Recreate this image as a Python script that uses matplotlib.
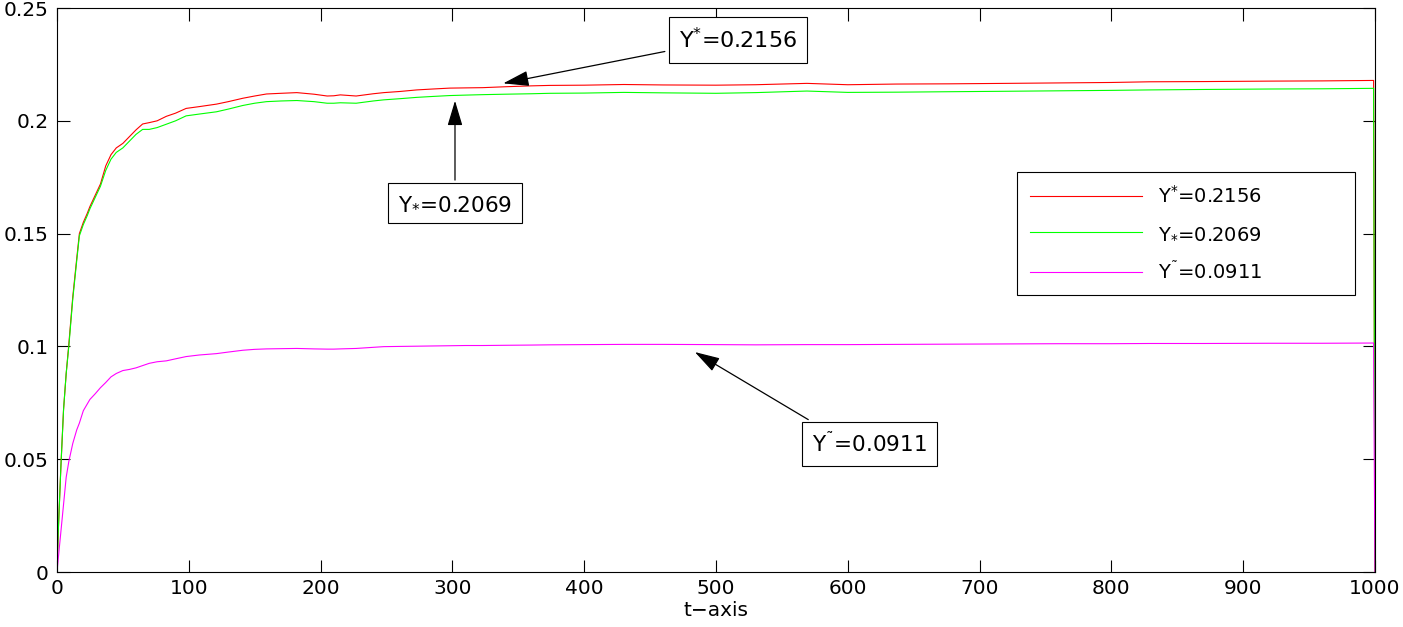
import matplotlib
matplotlib.use('Agg')
import matplotlib.pyplot as plt

# time points
t = [0, 1, 3, 5, 7, 9, 12, 15, 17, 20, 23, 25, 29, 33, 37, 41, 45, 50, 55, 60,
     65, 70, 76, 83, 90, 98, 108, 121, 130, 141, 150, 159, 170, 182, 195, 205,
     210, 215, 227, 240, 248, 260, 273, 285, 298, 310, 323, 340, 360, 374, 400,
     430, 460, 500, 530, 569, 600, 637, 677, 720, 760, 800, 829, 870, 920, 960,
     999, 1000]

y_upper = [0, 0.018, 0.047, 0.072, 0.088, 0.101, 0.122, 0.139, 0.150, 0.155,
           0.159, 0.162, 0.167, 0.172, 0.180, 0.185, 0.188, 0.190, 0.193, 0.196,
           0.1986, 0.1992, 0.200, 0.202, 0.2034, 0.2055, 0.2063, 0.2074, 0.2085,
           0.2100, 0.2110, 0.2119, 0.2122, 0.2125, 0.2118, 0.2110, 0.2111, 0.2115,
           0.2110, 0.2120, 0.2125, 0.2130, 0.2137, 0.2141, 0.2145, 0.2146, 0.2147,
           0.2151, 0.2155, 0.2157, 0.2158, 0.2161, 0.2159, 0.2158, 0.2160, 0.2166,
           0.2160, 0.2163, 0.2164, 0.2166, 0.2168, 0.2170, 0.2173, 0.2174, 0.2176,
           0.2177, 0.2179, 0]

y_lower = [0, 0.018, 0.047, 0.072, 0.088, 0.100, 0.121, 0.138, 0.149, 0.154,
           0.158, 0.161, 0.166, 0.171, 0.178, 0.183, 0.186, 0.188, 0.191, 0.194,
           0.1962, 0.1962, 0.197, 0.1985, 0.200, 0.2022, 0.2030, 0.2040, 0.2052,
           0.2068, 0.2078, 0.2085, 0.2088, 0.2090, 0.2085, 0.2078, 0.2078, 0.2080,
           0.2078, 0.2088, 0.2093, 0.2098, 0.2104, 0.2108, 0.2112, 0.2114, 0.2116,
           0.2118, 0.2120, 0.2122, 0.2123, 0.2126, 0.2124, 0.2122, 0.2125, 0.2132,
           0.2126, 0.2127, 0.2129, 0.2131, 0.2133, 0.2135, 0.2137, 0.2139, 0.2141,
           0.2142, 0.2144, 0]

y_tilde = [0, 0.006, 0.018, 0.030, 0.042, 0.049, 0.057, 0.063, 0.066, 0.0715,
           0.0745, 0.0765, 0.079, 0.0817, 0.084, 0.0865, 0.0880, 0.0893, 0.0898,
           0.0905, 0.0915, 0.0925, 0.0932, 0.0936, 0.0945, 0.0955, 0.0962, 0.0968,
           0.0975, 0.0983, 0.0987, 0.0989, 0.0990, 0.0991, 0.0989, 0.0988, 0.0988,
           0.0989, 0.0991, 0.0996, 0.0999, 0.1000, 0.1001, 0.1002, 0.1003, 0.1004,
           0.1004, 0.1005, 0.1006, 0.1007, 0.1008, 0.1009, 0.1009, 0.1008, 0.1007,
           0.1008, 0.1008, 0.1009, 0.1010, 0.1011, 0.1012, 0.1012, 0.1013, 0.1013,
           0.1014, 0.1014, 0.1015, 0]

labels = [r'Y$^{*}$=0.2156', r'Y$_{*}$=0.2069', r'Y$^{\mathrm{˜}}$=0.0911']
xticks = [0, 100, 200, 300, 400, 500, 600, 700, 800, 900, 1000]
yticks = [0, 0.05, 0.1, 0.15, 0.2, 0.25]
ytick_labels = ['0', '0.05', '0.1', '0.15', '0.2', '0.25']

plt.rcParams['font.family'] = ['DejaVu Sans']
plt.rcParams['mathtext.fontset'] = 'dejavusans'

fig = plt.figure(figsize=(14.03, 6.27), dpi=100)
ax = fig.add_axes([0.0406, 0.0877, 0.9394, 0.8995])

ax.plot(t, y_upper, color='#ff0000', lw=0.8, label=labels[0])
ax.plot(t, y_lower, color='#00ff00', lw=0.8, label=labels[1])
ax.plot(t, y_tilde, color='#ff00ff', lw=0.8, label=labels[2])

ax.set_xlim(0, 1000)
ax.set_ylim(0, 0.25)
ax.set_xticks(xticks)
ax.set_yticks(yticks)
ax.set_yticklabels(ytick_labels)
ax.tick_params(direction='in', length=9, width=0.8, top=True, right=True,
               labelsize=14.5)
ax.tick_params(axis='y', pad=6)
ax.tick_params(axis='x', pad=5)
for s in ax.spines.values():
    s.set_linewidth(0.8)
ax.set_xlabel('t\u2212axis', fontsize=14.5, labelpad=2)

box = dict(boxstyle='square,pad=0.45', fc='white', ec='black', lw=0.8)
ap = dict(arrowstyle='-|>,head_length=1.0,head_width=0.3', color='black',
          lw=0.9, shrinkB=0)
ax.annotate(labels[0], xy=(338.6, 0.2166), xytext=(517, 0.2358),
            fontsize=16, ha='center', va='center', bbox=box,
            arrowprops=dict(ap, relpos=(0, 0.16), shrinkA=3))
ax.annotate(labels[1], xy=(302, 0.2089), xytext=(302, 0.1636),
            fontsize=15.5, ha='center', va='center', bbox=box,
            arrowprops=dict(ap, relpos=(0.5, 1), shrinkA=2))
ax.annotate(labels[2], xy=(484, 0.0975), xytext=(616.5, 0.0567),
            fontsize=15.5, ha='center', va='center', bbox=box,
            arrowprops=dict(ap, relpos=(0.145, 1), shrinkA=3))

leg = ax.legend(loc='upper left', bbox_to_anchor=(0.7284, 0.7092, 0.2564, 0),
                mode='expand', fontsize=14, frameon=True, fancybox=False,
                edgecolor='black', framealpha=1, handlelength=5.8,
                handletextpad=0.8, labelspacing=0.88, borderpad=0.65,
                borderaxespad=0)
leg.get_frame().set_linewidth(0.8)

plt.savefig('out.png', dpi=100)
